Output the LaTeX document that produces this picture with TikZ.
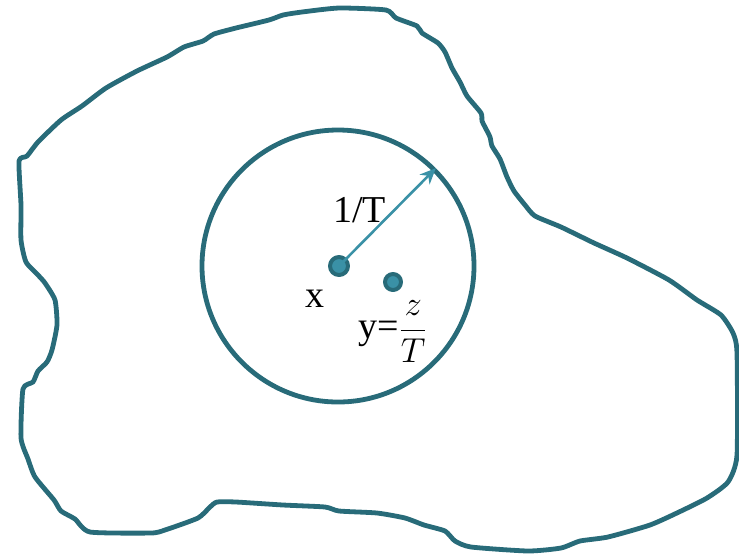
\documentclass[tikz,border=0pt]{standalone}
\usepackage{fontspec}
\setmainfont{Liberation Serif}
\usetikzlibrary{positioning, arrows.meta}

\definecolor{tealdark}{HTML}{286B79}
\definecolor{teallight}{HTML}{3A91A6}

\begin{document}
\begin{tikzpicture}[
    x=0.5pt, y=-0.5pt,          % 1単位 = 元画像の1ピクセル
    line join=round,
    >=Stealth,
    font=\fontsize{19}{23}\selectfont,
    % 外形と円のスタイル
    outline/.style={draw=tealdark, line width=2.4pt},
    % 点のスタイル
    pt_dot/.style={circle, draw=tealdark, fill=teallight, line width=2pt, inner sep=0pt, minimum size=9pt},
    lbl/.style={inner sep=0pt, text=black}
]
    \useasboundingbox (0,0) rectangle (739,554);

    % --- 1. 外側の領域（でこぼこの境界） ---
    \draw [outline] plot [smooth cycle, tension=0.35] coordinates {
        (339,8) (386,10) (396,18) (417,26) (422,33) (438,43) (445,52)
        (452,68) (460,82) (467,96) (481,113) (482,121) (485,127) (490,137)
        (492,146) (500,159) (507,177) (514,191) (525,205) (535,216)
        (561,227) (594,243) (627,258) (669,280) (697,300) (721,315)
        (733,333) (737,353) (737,455) (728,482) (707,498) (679,512)
        (650,525) (608,537) (580,541) (561,548) (528,551) (471,547)
        (455,541) (445,531) (424,525) (405,518) (377,513) (339,511)
        (325,507) (283,505) (236,502) (217,502) (210,507) (198,518)
        (165,530) (151,533) (90,532) (75,519) (61,511) (54,500)
        (35,477) (28,459) (21,438) (23,389) (33,382) (38,371)
        (47,362) (52,350) (57,325) (55,300) (45,283) (38,275)
        (26,262) (21,240) (21,205) (19,161) (27,156) (38,142)
        (61,120) (82,106) (106,88) (137,71) (167,57) (184,47)
        (203,41) (214,34) (236,28) (269,20) (283,15) (302,12)
    };

    % --- 2. 半径 1/T の円 ---
    \node [outline, circle, inner sep=0pt, minimum size=136pt] (ball) at (338,266) {};

    % --- 3. 点 x, y とラベル ---
    \node [pt_dot] (xdot) at (339,266) {};
    \node [pt_dot, minimum size=8pt] (ydot) at (393,282) {};

    \node [lbl, below left=8pt and 3pt of xdot] (xlbl) {x};
    \node [lbl, below=4pt of ydot] (ylbl) {y=$\displaystyle\frac{z}{T}$};

    % --- 4. 半径の矢印 ---
    \draw [teallight, line width=1.3pt, -{Stealth[length=8pt, width=7pt]}]
        (xdot.center) -- node [lbl, midway, anchor=base east, yshift=-2.5pt] (rlbl) {1/T} (ball.45);

\end{tikzpicture}
\end{document}
